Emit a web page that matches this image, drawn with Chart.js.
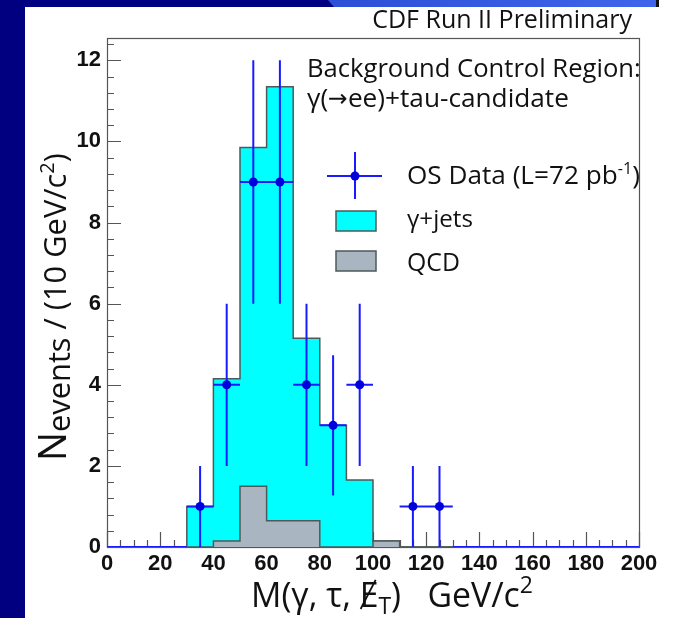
<!DOCTYPE html>
<html>
<head>
<meta charset="utf-8">
<script src="https://cdn.jsdelivr.net/npm/chart.js@4.4.1/dist/chart.umd.min.js"></script>
<style>
html, body { margin: 0; padding: 0; background: #fff; }
#wrap { position: relative; width: 673px; height: 618px; }
</style>
</head>
<body>
<div id="wrap"><canvas id="histo" width="673" height="618"></canvas></div>
<script>
// 10 GeV/c2 bins from 0 to 200
const binLow = [0, 10, 20, 30, 40, 50, 60, 70, 80, 90, 100, 110, 120, 130, 140, 150, 160, 170, 180, 190];
const binWidth = 10;
const gammaJets = [0, 0, 0, 1.0, 4.0, 8.35, 10.7, 4.5, 3.0, 1.65, 0, 0, 0, 0, 0, 0, 0, 0, 0, 0];
const qcd = [0, 0, 0, 0, 0.15, 1.5, 0.65, 0.65, 0, 0, 0.15, 0, 0, 0, 0, 0, 0, 0, 0, 0];
const osData = [0, 0, 0, 1, 4, 9, 9, 4, 3, 4, 0, 1, 1, 0, 0, 0, 0, 0, 0, 0];
const osErr = [0, 0, 0, 1, 2, 3, 3, 2, 1.73, 2, 0, 1, 1, 0, 0, 0, 0, 0, 0, 0];
const xTickLabels = [0, 20, 40, 60, 80, 100, 120, 140, 160, 180, 200];
const yTickLabels = [0, 2, 4, 6, 8, 10, 12];

const CYAN = '#00ffff';
const GREY = '#a9b5c1';
const EDGE = '#4d5a5a';
const BLUE = '#1a1aff';
const TXT = "'Open Sans', 'Noto Sans', sans-serif";
const TICKFONT = { family: "'Liberation Sans', Arial, sans-serif", size: 22, weight: 'bold' };

// stacked total of the backgrounds
const bgTotal = gammaJets.map((v, i) => v + qcd[i]);

function stepPoints(values)
{
	const pts = [];
	binLow.forEach((lo, i) => {
		pts.push({x: lo, y: values[i]});
		pts.push({x: lo + binWidth, y: values[i]});
	});
	return pts;
}

const marks = [], errX = [], errY = [], zeroLine = [];
binLow.forEach((lo, i) => {
	const c = lo + binWidth / 2;
	if (osData[i] > 0) {
		marks.push({x: c, y: osData[i]});
		errX.push({x: lo, y: osData[i]}, {x: lo + binWidth, y: osData[i]}, {x: c, y: null});
		errY.push({x: c, y: osData[i] - osErr[i]}, {x: c, y: osData[i] + osErr[i]}, {x: c, y: null});
	}
	else if (bgTotal[i] === 0) {
		zeroLine.push({x: lo, y: 0}, {x: lo + binWidth, y: 0}, {x: c, y: null});
	}
});

// draws text made of pieces [text, sizeFactor, dy, family], stretched to a target width
function drawRich(ctx, parts, x, y, base, width)
{
	let total = 0;
	parts.forEach(p => {
		ctx.font = `${base * p[1]}px ${p[3] || TXT}`;
		total += ctx.measureText(p[0]).width;
	});
	const k = width ? width / total : 1;
	let cx = x;
	const spots = [];
	parts.forEach(p => {
		const size = base * p[1] * k;
		ctx.font = `${size}px ${p[3] || TXT}`;
		ctx.fillText(p[0], cx, y + p[2] * k);
		const w = ctx.measureText(p[0]).width;
		spots.push({x: cx, w: w, size: size});
		cx += w;
	});
	return spots;
}

function fitText(ctx, text, x, y, width, align)
{
	ctx.font = `100px ${TXT}`;
	const size = 100 * width / ctx.measureText(text).width;
	ctx.font = `${size}px ${TXT}`;
	ctx.textAlign = align || 'left';
	ctx.fillText(text, x, y);
	ctx.textAlign = 'left';
}

const backdrop = {
	id: 'backdrop',
	beforeDraw(chart) {
		const ctx = chart.ctx;
		ctx.save();
		ctx.fillStyle = '#fff';
		ctx.fillRect(0, 0, chart.width, chart.height);
		ctx.fillStyle = '#000080';
		ctx.fillRect(0, 0, 25, chart.height);
		ctx.fillRect(0, 0, 335, 7);
		const g = ctx.createLinearGradient(330, 0, 656, 0);
		g.addColorStop(0, '#2d4fd6');
		g.addColorStop(1, '#3f66ea');
		ctx.fillStyle = g;
		ctx.beginPath();
		ctx.moveTo(328, 0);
		ctx.lineTo(656, 0);
		ctx.lineTo(656, 7);
		ctx.lineTo(334, 7);
		ctx.closePath();
		ctx.fill();
		ctx.fillStyle = '#111';
		ctx.fillRect(656, 0, 3, 7);
		ctx.restore();
	}
};

const frame = {
	id: 'frame',
	beforeDatasetsDraw(chart) {
		const {ctx, chartArea: a, scales: {x, y}} = chart;
		ctx.save();
		ctx.strokeStyle = '#555';
		ctx.lineWidth = 1.2;
		ctx.beginPath();
		for (let v = 0; v <= 200; v += 5) {
			const px = Math.round(x.getPixelForValue(v)) + 0.5;
			const len = v % 20 === 0 ? 15 : 7;
			ctx.moveTo(px, a.bottom);
			ctx.lineTo(px, a.bottom - len);
		}
		for (let k = 0; k <= 31; k++) {
			const py = Math.round(y.getPixelForValue(k * 0.4)) + 0.5;
			const len = k % 5 === 0 ? 14 : 7;
			ctx.moveTo(a.left, py);
			ctx.lineTo(a.left + len, py);
		}
		ctx.stroke();
		ctx.strokeRect(a.left + 0.5, a.top + 0.5, a.right - a.left, a.bottom - a.top);
		ctx.restore();
	}
};

const labels = {
	id: 'labels',
	afterDraw(chart) {
		const ctx = chart.ctx;
		ctx.save();
		ctx.fillStyle = '#111';
		ctx.textBaseline = 'alphabetic';

		fitText(ctx, 'CDF Run II Preliminary', 632, 28, 260, 'right');
		fitText(ctx, 'Background Control Region:', 307, 77, 334);
		drawRich(ctx, [['γ(', 1, 0], ['\u2192', 0.9, -1, "'DejaVu Sans', sans-serif"], ['ee)+tau-candidate', 1, 0]], 307, 107, 24, 262);

		// legend
		ctx.strokeStyle = BLUE;
		ctx.lineWidth = 2;
		ctx.beginPath();
		ctx.moveTo(327, 176); ctx.lineTo(382, 176);
		ctx.moveTo(355, 152); ctx.lineTo(355, 199);
		ctx.stroke();
		ctx.fillStyle = '#0000dd';
		ctx.beginPath();
		ctx.arc(355, 176, 4.5, 0, Math.PI * 2);
		ctx.fill();
		ctx.lineWidth = 1.5;
		ctx.strokeStyle = EDGE;
		ctx.fillStyle = CYAN;
		ctx.fillRect(336, 211, 40, 20);
		ctx.strokeRect(336, 211, 40, 20);
		ctx.fillStyle = GREY;
		ctx.fillRect(336, 251, 40, 20);
		ctx.strokeRect(336, 251, 40, 20);

		ctx.fillStyle = '#111';
		drawRich(ctx, [['OS Data (L=72 pb', 1, 0], ['-1', 0.62, -9], [')', 1, 0]], 407, 184, 24, 233);
		fitText(ctx, 'γ+jets', 407, 227, 66);
		fitText(ctx, 'QCD', 407, 271, 53);

		// x title
		const sp = drawRich(ctx, [['M(γ, τ, ', 1, 0], ['E', 1, 0], ['T', 0.68, 6], [')   GeV/c', 1, 0], ['2', 0.68, -12]], 251, 607, 28, 282);
		const e = sp[1];
		ctx.strokeStyle = '#111';
		ctx.lineWidth = 1.8;
		ctx.beginPath();
		ctx.moveTo(e.x + e.w * 0.05, 609);
		ctx.lineTo(e.x + e.w * 0.85, 607 - e.size * 0.8);
		ctx.stroke();

		// y title
		ctx.translate(66, 461);
		ctx.rotate(-Math.PI / 2);
		drawRich(ctx, [['N', 1.25, 0], ['events', 1, 3], [' / (10 GeV/c', 1, 0], ['2', 0.65, -10], [')', 1, 0]], 0, 0, 25, 308);
		ctx.restore();
	}
};

new Chart(document.getElementById('histo'), {
	type: 'line',
	data: {
		datasets: [
			{
				label: 'OS Data',
				data: marks,
				showLine: false,
				pointRadius: 4.5,
				pointBackgroundColor: '#0000dd',
				pointBorderColor: '#0000dd',
				pointBorderWidth: 0,
				order: 0
			},
			{
				label: 'errX',
				data: errX,
				borderColor: BLUE,
				borderWidth: 2,
				pointRadius: 0,
				spanGaps: false,
				order: 1
			},
			{
				label: 'errY',
				data: errY,
				borderColor: BLUE,
				borderWidth: 2,
				pointRadius: 0,
				spanGaps: false,
				order: 1
			},
			{
				label: 'zero',
				data: zeroLine,
				borderColor: BLUE,
				borderWidth: 2,
				pointRadius: 0,
				spanGaps: false,
				order: 1
			},
			{
				label: 'QCD',
				data: stepPoints(qcd),
				borderColor: EDGE,
				borderWidth: 1.5,
				backgroundColor: GREY,
				fill: 'origin',
				pointRadius: 0,
				order: 3
			},
			{
				label: 'γ+jets',
				data: stepPoints(bgTotal),
				borderColor: EDGE,
				borderWidth: 1.5,
				backgroundColor: CYAN,
				fill: 'origin',
				pointRadius: 0,
				order: 4
			}
		]
	},
	options: {
		responsive: false,
		animation: false,
		devicePixelRatio: 1,
		layout: { padding: { left: 0, right: 34, top: 38, bottom: 0 } },
		plugins: { legend: { display: false }, tooltip: { enabled: false } },
		elements: { line: { tension: 0 } },
		scales: {
			x: {
				type: 'linear',
				min: 0,
				max: 200,
				grid: { display: false, drawTicks: false },
				border: { display: false },
				afterBuildTicks: s => { s.ticks = xTickLabels.map(v => ({ value: v })); },
				afterFit: s => { s.height = 71; },
				ticks: {
					autoSkip: false,
					maxRotation: 0,
					padding: 4,
					color: '#111',
					font: TICKFONT
				}
			},
			y: {
				type: 'linear',
				min: 0,
				max: 12.55,
				grid: { display: false, drawTicks: false },
				border: { display: false },
				afterBuildTicks: s => { s.ticks = yTickLabels.map(v => ({ value: v })); },
				afterFit: s => { s.width = 107; },
				ticks: {
					padding: 6,
					color: '#111',
					font: TICKFONT
				}
			}
		}
	},
	plugins: [backdrop, frame, labels]
});
</script>
</body>
</html>
